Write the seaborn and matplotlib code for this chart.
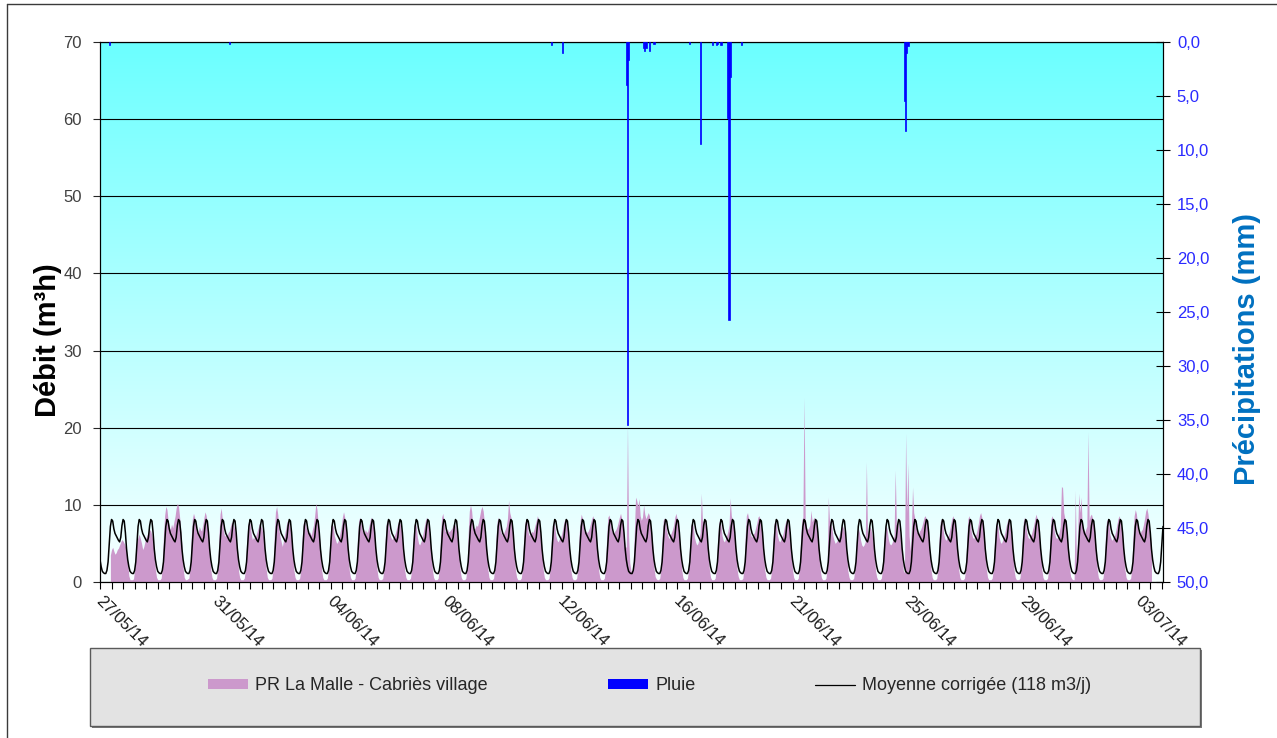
import numpy as np
import matplotlib
matplotlib.use("Agg")
import matplotlib.pyplot as plt
from matplotlib import font_manager
from matplotlib.patches import Rectangle, Patch
from matplotlib.lines import Line2D
from matplotlib.ticker import FuncFormatter
from matplotlib.transforms import ScaledTranslation
import seaborn as sns

# ---------------------------------------------------------------------------
# Données (pas horaire, heure 0 = 27/05/14 00:00)
# ---------------------------------------------------------------------------
dates_etiquettes = ['27/05/14', '31/05/14', '04/06/14', '08/06/14', '12/06/14',
                    '16/06/14', '21/06/14', '25/06/14', '29/06/14', '03/07/14']
heure_fin_axe = 921

# Profil journalier de la moyenne corrigée (118 m3/j), m3/h de 0h à 23h
moyenne_horaire = [2.9, 2.0, 1.4, 1.2, 1.1, 1.1, 1.5, 2.6, 5.0, 7.2, 8.1, 7.9,
                   6.9, 6.3, 6.0, 5.7, 5.4, 5.2, 5.8, 7.3, 8.1, 7.9, 6.4, 4.3]

# Débit mesuré au PR La Malle (m3/h), une ligne par jour ; mesures à partir de 9h le 27/05
debut_pr = 9
debit_pr_par_jour = [
    [3.5, 4.2, 4.5, 4.0, 3.6, 3.8, 4.2, 4.4, 4.8, 5.2, 5.5, 5.3, 5.0, 4.6, 4.0],
    [2.5, 0.8, 0.3, 0.3, 0.3, 0.4, 1.6, 4.8, 5.4, 5.8, 6.2, 5.6, 5.0, 4.2, 4.6, 5.3, 5.8, 6.2, 6.5, 6.8, 6.6, 6.0, 5.2, 4.0],
    [1.6, 0.6, 0.3, 0.3, 0.3, 0.5, 2.0, 6.2, 8.6, 9.8, 9.4, 8.0, 7.2, 6.8, 7.5, 7.0, 7.8, 8.5, 9.6, 10.2, 9.8, 8.4, 6.6, 4.8],
    [1.8, 0.6, 0.3, 0.3, 0.4, 0.5, 1.9, 5.6, 8.2, 8.9, 8.4, 7.0, 6.5, 6.3, 7.2, 6.8, 6.6, 7.4, 8.3, 9.1, 8.6, 7.4, 6.0, 4.4],
    [1.6, 0.6, 0.3, 0.3, 0.3, 0.5, 1.8, 5.8, 8.8, 9.6, 8.1, 6.6, 5.9, 6.2, 5.8, 6.4, 6.6, 7.2, 7.8, 7.6, 7.2, 6.6, 5.6, 4.2],
    [1.5, 0.6, 0.3, 0.3, 0.3, 0.5, 1.7, 5.2, 7.4, 8.0, 7.6, 6.3, 5.5, 5.8, 5.6, 6.0, 6.5, 7.0, 7.6, 7.4, 7.0, 6.4, 5.4, 4.0],
    [1.6, 0.6, 0.3, 0.3, 0.3, 0.5, 1.9, 6.2, 9.1, 9.8, 8.8, 6.8, 5.9, 5.2, 4.6, 5.4, 6.2, 7.0, 7.8, 8.0, 7.6, 6.8, 5.6, 4.2],
    [1.5, 0.6, 0.3, 0.3, 0.3, 0.5, 1.7, 5.4, 7.6, 8.0, 7.4, 6.8, 6.6, 6.3, 6.5, 6.0, 6.8, 7.4, 8.6, 10.2, 9.4, 7.6, 6.0, 4.4],
    [1.6, 0.6, 0.3, 0.3, 0.3, 0.5, 1.8, 5.2, 7.2, 7.6, 7.2, 6.0, 5.5, 5.0, 5.2, 5.6, 6.4, 7.2, 8.4, 9.1, 8.4, 7.2, 5.8, 4.2],
    [1.5, 0.6, 0.3, 0.3, 0.3, 0.5, 1.8, 5.6, 7.8, 8.4, 7.8, 6.8, 6.3, 6.4, 6.8, 6.4, 6.6, 7.2, 8.0, 8.4, 8.0, 7.0, 5.8, 4.2],
    [1.6, 0.6, 0.3, 0.3, 0.3, 0.5, 1.7, 5.4, 7.6, 8.0, 7.6, 6.4, 5.8, 5.5, 5.8, 6.0, 6.4, 7.0, 7.6, 8.0, 7.6, 6.8, 5.6, 4.0],
    [1.5, 0.6, 0.3, 0.3, 0.3, 0.5, 1.6, 5.2, 7.4, 7.8, 7.2, 5.8, 5.0, 4.8, 5.2, 5.6, 6.4, 7.2, 8.0, 8.4, 7.8, 6.8, 5.6, 4.0],
    [1.6, 0.6, 0.3, 0.3, 0.3, 0.5, 1.9, 6.0, 8.4, 8.9, 8.0, 6.6, 6.5, 6.9, 6.5, 6.6, 6.8, 7.0, 7.4, 7.6, 7.2, 6.6, 5.4, 4.0],
    [1.6, 0.6, 0.3, 0.3, 0.3, 0.5, 2.0, 6.4, 9.2, 10.0, 9.2, 7.4, 6.8, 7.0, 7.4, 7.2, 7.8, 8.6, 9.4, 9.8, 9.2, 7.8, 6.2, 4.6],
    [1.7, 0.6, 0.3, 0.3, 0.3, 0.5, 1.8, 5.6, 7.8, 8.4, 7.8, 6.6, 6.2, 6.0, 6.4, 6.8, 7.2, 8.2, 10.6, 9.0, 8.4, 7.2, 5.8, 4.2],
    [1.5, 0.6, 0.3, 0.3, 0.3, 0.5, 1.7, 5.4, 7.6, 8.2, 7.8, 6.4, 6.0, 6.2, 6.6, 6.4, 6.8, 7.4, 8.0, 8.6, 8.0, 7.0, 5.8, 4.2],
    [1.6, 0.6, 0.3, 0.3, 0.3, 0.5, 1.8, 5.2, 7.4, 7.8, 7.2, 6.0, 5.4, 5.2, 5.6, 5.8, 6.2, 7.0, 7.8, 8.2, 7.6, 6.8, 5.6, 4.0],
    [1.5, 0.6, 0.3, 0.3, 0.3, 0.5, 1.8, 5.8, 8.0, 8.8, 8.2, 6.8, 6.4, 6.6, 6.4, 6.6, 7.0, 7.6, 8.2, 8.6, 8.0, 7.0, 5.8, 4.2],
    [1.6, 0.6, 0.3, 0.3, 0.3, 0.5, 1.9, 6.0, 8.4, 8.7, 8.0, 6.8, 6.4, 6.2, 6.6, 6.8, 7.2, 7.8, 8.4, 8.9, 8.2, 7.2, 6.0, 4.6],
    [4.5, 20.5, 6.0, 2.5, 1.5, 1.2, 2.6, 6.6, 11.0, 10.6, 9.8, 10.8, 8.6, 8.0, 8.4, 10.0, 8.8, 8.2, 8.6, 9.0, 8.6, 7.6, 6.2, 4.6],
    [1.8, 0.7, 0.4, 0.3, 0.3, 0.5, 1.9, 5.8, 8.0, 8.3, 7.8, 6.6, 6.0, 5.6, 6.0, 6.4, 6.8, 7.4, 8.4, 8.9, 8.2, 7.2, 5.8, 4.2],
    [1.6, 0.6, 0.3, 0.3, 0.3, 0.5, 1.8, 5.4, 7.4, 7.8, 7.2, 5.8, 5.2, 4.8, 5.0, 5.6, 6.4, 11.5, 7.8, 8.0, 7.6, 6.8, 5.6, 4.0],
    [1.6, 0.6, 0.3, 0.3, 0.3, 0.5, 1.8, 5.4, 7.6, 8.0, 7.4, 6.0, 5.4, 5.2, 5.6, 6.0, 6.6, 7.4, 10.9, 8.6, 8.0, 7.0, 5.8, 4.2],
    [1.6, 0.7, 0.3, 0.3, 0.3, 0.5, 1.9, 6.0, 8.6, 9.0, 8.2, 6.6, 6.0, 5.8, 6.2, 6.4, 7.0, 7.6, 8.4, 8.6, 8.0, 7.0, 5.8, 4.2],
    [1.5, 0.6, 0.3, 0.3, 0.3, 0.5, 1.7, 5.4, 7.6, 8.0, 7.4, 6.0, 5.4, 5.2, 5.6, 5.8, 6.4, 7.2, 7.8, 8.2, 7.8, 6.8, 5.6, 4.0],
    [1.6, 0.6, 0.3, 0.3, 0.3, 0.5, 1.8, 5.6, 8.0, 8.4, 24.0, 8.2, 7.2, 6.8, 7.0, 7.4, 9.3, 7.8, 8.2, 8.4, 7.8, 7.0, 5.8, 4.2],
    [1.6, 0.6, 0.3, 0.3, 0.3, 0.5, 2.0, 11.0, 8.0, 7.6, 7.2, 6.0, 5.4, 5.0, 5.2, 5.4, 5.8, 6.4, 7.0, 7.4, 7.0, 6.4, 5.2, 3.8],
    [1.4, 0.6, 0.3, 0.3, 0.3, 0.5, 1.6, 4.8, 6.6, 7.0, 6.4, 5.4, 4.8, 4.6, 4.8, 5.2, 15.6, 6.2, 6.8, 7.2, 6.8, 6.0, 5.0, 3.6],
    [1.4, 0.6, 0.3, 0.3, 0.3, 0.5, 1.7, 5.2, 7.0, 7.4, 6.8, 5.6, 5.0, 4.8, 5.0, 5.4, 6.0, 14.5, 7.4, 7.8, 7.2, 6.4, 5.2, 3.8],
    [1.5, 1.2, 19.3, 9.0, 15.4, 6.0, 4.0, 7.0, 12.3, 9.0, 8.2, 7.0, 6.4, 6.2, 6.6, 6.8, 7.2, 7.8, 8.4, 8.6, 8.0, 7.0, 5.8, 4.2],
    [1.6, 0.6, 0.3, 0.3, 0.3, 0.5, 1.8, 5.6, 7.8, 8.2, 7.6, 6.2, 5.6, 5.4, 5.8, 6.0, 6.6, 7.4, 8.2, 8.6, 8.0, 7.0, 5.8, 4.2],
    [1.6, 0.6, 0.3, 0.3, 0.3, 0.5, 1.8, 5.8, 8.2, 8.6, 7.8, 6.4, 5.8, 5.6, 6.0, 6.2, 6.8, 7.6, 8.6, 9.0, 8.4, 7.2, 6.0, 4.4],
    [1.6, 0.6, 0.3, 0.3, 0.3, 0.5, 1.7, 5.4, 7.4, 7.8, 7.2, 5.8, 5.2, 5.0, 5.4, 5.8, 6.4, 7.2, 7.8, 8.2, 7.6, 6.8, 5.6, 4.0],
    [1.5, 0.6, 0.3, 0.3, 0.3, 0.5, 1.8, 5.6, 7.8, 8.4, 7.8, 6.4, 5.8, 5.6, 6.0, 6.2, 6.8, 7.4, 8.2, 8.8, 8.2, 7.0, 5.8, 4.2],
    [1.6, 0.6, 0.3, 0.3, 0.3, 0.5, 1.8, 5.8, 8.2, 8.6, 7.8, 6.4, 5.8, 5.6, 6.0, 6.4, 7.2, 12.4, 12.2, 9.0, 8.2, 7.2, 6.0, 4.4],
    [1.7, 0.7, 0.4, 0.3, 0.3, 11.9, 2.4, 6.0, 11.5, 9.0, 11.0, 7.4, 6.8, 6.4, 6.8, 7.2, 19.5, 8.0, 8.6, 8.8, 8.2, 7.2, 6.0, 4.4],
    [1.6, 0.6, 0.3, 0.3, 0.3, 0.5, 1.8, 5.6, 7.8, 8.2, 7.6, 6.2, 5.6, 5.4, 5.8, 6.0, 6.6, 7.4, 8.2, 8.6, 8.0, 7.0, 5.8, 4.2],
    [1.6, 0.6, 0.3, 0.3, 0.3, 0.5, 1.9, 6.0, 8.6, 9.4, 8.8, 7.0, 6.4, 6.2, 6.6, 6.8, 7.4, 8.2, 9.2, 9.6, 8.8, 7.4, 6.2, 4.5],
]

# Pluie horaire (mm)
pluie_heure = [8, 112, 391, 401, 456, 457, 458, 471, 472, 473, 476, 480, 511, 520,
               531, 534, 535, 538, 544, 545, 546, 556, 697, 698, 699, 700]
pluie_mm = [0.3, 0.2, 0.3, 1.0, 4.0, 35.5, 1.7, 0.6, 0.8, 0.6, 0.8, 0.2, 0.2, 9.4,
            0.3, 0.3, 0.2, 0.3, 7.0, 25.7, 3.2, 0.3, 5.5, 8.2, 1.0, 0.4]

legende = ['PR La Malle - Cabriès village', 'Pluie', 'Moyenne corrigée (118 m3/j)']

# ---------------------------------------------------------------------------
# Style
# ---------------------------------------------------------------------------
sns.set_style('ticks')
noms = {f.name for f in font_manager.fontManager.ttflist}
police = 'Liberation Sans' if 'Liberation Sans' in noms else 'DejaVu Sans'
police_etroite = 'Liberation Sans Narrow' if 'Liberation Sans Narrow' in noms else police
plt.rcParams['font.family'] = [police, 'DejaVu Sans']

COUL_PR = '#CC99CC'
COUL_PLUIE = '#0000FF'
W, H = 1277, 738

fig = plt.figure(figsize=(W / 100, H / 100), dpi=100)
ax = fig.add_axes([100 / W, 1 - 582 / H, 1063 / W, 540 / H])

# Fond en dégradé cyan -> blanc
haut = np.array([0.42, 1.0, 1.0])
bas = np.array([0.975, 1.0, 1.0])
t = np.linspace(0, 1, 256)[:, None]
grad = (bas + (haut - bas) * t)[:, None, :]
ax.imshow(grad, extent=(0, heure_fin_axe, 0, 70), origin='lower',
          aspect='auto', zorder=0, interpolation='bilinear')

# Débit mesuré (aire)
debit = np.concatenate([np.asarray(j, float) for j in debit_pr_par_jour])
heures_pr = debut_pr + np.arange(len(debit))
ax.fill_between(heures_pr, 0, debit, color=COUL_PR, lw=0, zorder=2)

# Moyenne corrigée (courbe)
heures = np.arange(heure_fin_axe + 1)
moyenne = np.tile(moyenne_horaire, heure_fin_axe // 24 + 2)[:len(heures)]
sns.lineplot(x=heures, y=moyenne, ax=ax, color='black', lw=1.1,
             estimator=None, zorder=3)

ax.set_xlim(0, heure_fin_axe)
ax.set_ylim(0, 70)
ax.set_yticks(np.arange(0, 71, 10))
ax.grid(True, axis='y', color='black', lw=0.8)
ax.grid(False, axis='x')
ax.set_axisbelow(True)

pos_ticks = np.arange(0, heure_fin_axe, 10)
etiquettes = [dates_etiquettes[p // 100] if p % 100 == 0 else '' for p in pos_ticks]
ax.set_xticks(pos_ticks)
ax.set_xticklabels(etiquettes)
ax.tick_params(axis='x', direction='out', length=5, width=0.8, pad=3,
               labelsize=12, colors='black', labelcolor='#1a1a1a')
decalage = ScaledTranslation(4 / 100, 0, fig.dpi_scale_trans)
for lab in ax.get_xticklabels():
    lab.set_rotation(-45)
    lab.set_ha('left')
    lab.set_va('top')
    lab.set_rotation_mode('anchor')
    lab.set_transform(lab.get_transform() + decalage)
ax.tick_params(axis='y', direction='out', length=5, width=0.8, pad=8,
               labelsize=12, labelcolor='#404040')
ax.set_xlabel('')
ax.set_ylabel('')
for s in ax.spines.values():
    s.set_visible(True)
    s.set_color('black')
    s.set_linewidth(0.8)

# Pluie sur axe secondaire inversé
ax2 = ax.twinx()
ax2.bar(pluie_heure, pluie_mm, width=1.0, color=COUL_PLUIE, edgecolor=COUL_PLUIE,
        lw=0.5, zorder=4)
ax2.set_ylim(50, 0)
ax2.set_yticks(np.arange(0, 51, 5))
ax2.yaxis.set_major_formatter(FuncFormatter(lambda v, p: f'{v:.1f}'.replace('.', ',')))
ax2.tick_params(axis='y', direction='inout', length=10, width=0.8, pad=5,
                labelsize=12, labelcolor='#2a2aff', color='black')
for s in ax2.spines.values():
    s.set_color('black')
    s.set_linewidth(0.8)

# Titres des axes
fig.text(48 / W, 1 - 340 / H, 'Débit (m³h)', rotation=90, ha='center', va='center',
         fontsize=21, fontweight='bold', color='black')
fig.text(1247 / W, 1 - 349 / H, 'Précipitations (mm)', rotation=90, ha='center',
         va='center', fontsize=21, fontweight='bold', color='#0070C0')

# Cadre de la légende
fig.patches.append(Rectangle((92 / W, 1 - 728 / H), 1110 / W, 78 / H,
                             transform=fig.transFigure, facecolor='#7a7a7a',
                             edgecolor='none', zorder=0))
fig.patches.append(Rectangle((90 / W, 1 - 726 / H), 1110 / W, 78 / H,
                             transform=fig.transFigure, facecolor='#E3E3E3',
                             edgecolor='#5a5a5a', lw=1.0, zorder=1))

leg_px = 22 if police_etroite != police else 18
handles = [Patch(facecolor=COUL_PR, edgecolor='none'),
           Patch(facecolor=COUL_PLUIE, edgecolor='none'),
           Line2D([], [], color='black', lw=0.9)]
fig.legend(handles, legende, loc='center', bbox_to_anchor=(650 / W, 1 - 686 / H),
           ncol=3, frameon=False,
           prop={'family': police_etroite, 'size': leg_px * 0.72},
           columnspacing=120 / leg_px, handlelength=40 / leg_px,
           handletextpad=7 / leg_px, handleheight=0.5)

# Bordure de la zone de graphique
fig.add_artist(Line2D([7 / W, 7 / W], [0, 1 - 4 / H], transform=fig.transFigure,
                      color='#3a3a3a', lw=1))
fig.add_artist(Line2D([7 / W, 1], [1 - 4 / H, 1 - 4 / H], transform=fig.transFigure,
                      color='#3a3a3a', lw=1))

fig.savefig('out.png', dpi=100, facecolor='white')
